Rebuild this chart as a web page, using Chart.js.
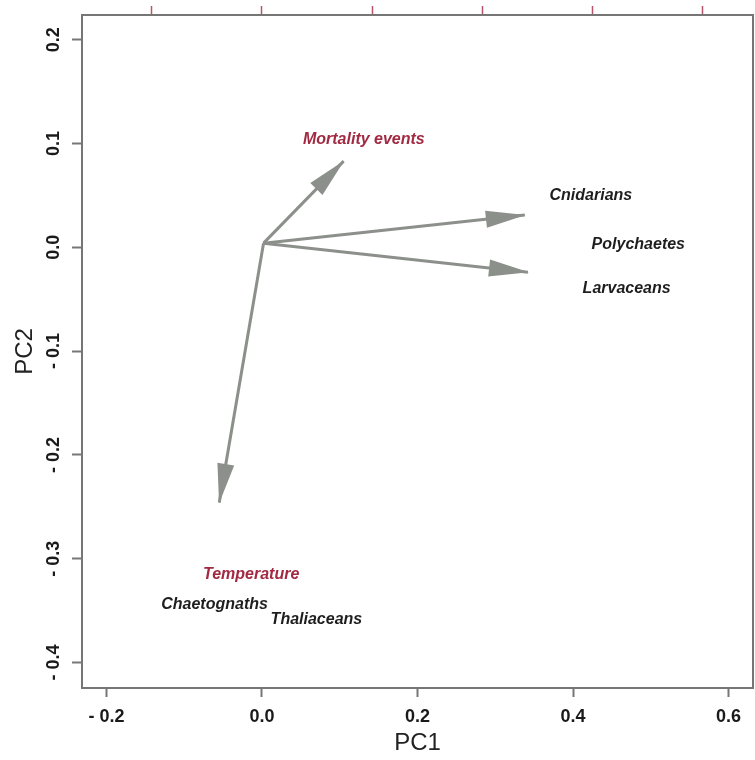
<!DOCTYPE html>
<html lang="en">
<head>
<meta charset="UTF-8">
<title>PCA biplot</title>
<script src="https://cdn.jsdelivr.net/npm/chart.js"></script>
<style>
  html, body { margin: 0; padding: 0; background: #fff; }
  #wrap { width: 755px; height: 760px; }
</style>
</head>
<body>
<div id="wrap"><canvas id="biplot" width="755" height="760"></canvas></div>
<script>
// tick values
const xTicks = [-0.2, 0.0, 0.2, 0.4, 0.6];
const yTicks = [0.2, 0.1, 0.0, -0.1, -0.2, -0.3, -0.4];
const topTicks = [-0.1, 0.0, 0.1, 0.2, 0.3, 0.4];

// arrows: common origin -> tip
const arrowNames = ['Mortality events', 'Cnidarians', 'Larvaceans', 'Temperature'];
const originX = 0.002;
const originY = 0.004;
const arrowTipX = [0.105, 0.338, 0.342, -0.055];
const arrowTipY = [0.083, 0.031, -0.024, -0.246];

// environmental variable labels (red)
const envNames = ['Mortality events', 'Temperature'];
const envX = [0.131, -0.014];
const envY = [0.104, -0.315];

// taxa labels (black)
const taxaNames = ['Cnidarians', 'Polychaetes', 'Larvaceans', 'Chaetognaths', 'Thaliaceans'];
const taxaX = [0.423, 0.484, 0.469, -0.061, 0.070];
const taxaY = [0.050, 0.003, -0.040, -0.344, -0.359];

const FONT = "'Liberation Sans', Arial, sans-serif";
const ARROW_COLOR = '#8c908b';

const fmt = v => (v < -1e-9 ? '- ' : '') + Math.abs(v).toFixed(1);

const datasets = arrowNames.map((name, i) => ({
    label: name,
    kind: 'arrow',
    data: [{ x: originX, y: originY }, { x: arrowTipX[i], y: arrowTipY[i] }],
    showLine: true,
    borderColor: ARROW_COLOR,
    borderWidth: 3,
    pointRadius: 0
}));
datasets.push({
    label: 'env',
    kind: 'text',
    names: envNames,
    textColor: '#a12a42',
    data: envNames.map((n, i) => ({ x: envX[i], y: envY[i] })),
    pointRadius: 0
});
datasets.push({
    label: 'taxa',
    kind: 'text',
    names: taxaNames,
    textColor: '#1e1e1e',
    data: taxaNames.map((n, i) => ({ x: taxaX[i], y: taxaY[i] })),
    pointRadius: 0
});

// arrowheads at the tip of each arrow
const arrowHeads = {
    id: 'arrowHeads',
    afterDatasetsDraw(chart) {
        const ctx = chart.ctx;
        chart.data.datasets.forEach((ds, i) => {
            if (ds.kind !== 'arrow') return;
            const pts = chart.getDatasetMeta(i).data;
            const a = pts[0], b = pts[1];
            const ang = Math.atan2(b.y - a.y, b.x - a.x);
            ctx.save();
            ctx.translate(b.x, b.y);
            ctx.rotate(ang);
            ctx.beginPath();
            ctx.moveTo(1, 0);
            ctx.lineTo(-39, -8.5);
            ctx.lineTo(-39, 8.5);
            ctx.closePath();
            ctx.fillStyle = ds.borderColor;
            ctx.fill();
            ctx.restore();
        });
    }
};

// text labels placed on their data points
const pointLabels = {
    id: 'pointLabels',
    afterDatasetsDraw(chart) {
        const ctx = chart.ctx;
        chart.data.datasets.forEach((ds, i) => {
            if (ds.kind !== 'text') return;
            const pts = chart.getDatasetMeta(i).data;
            ctx.save();
            ctx.font = 'italic bold 16px ' + FONT;
            ctx.fillStyle = ds.textColor;
            ctx.textAlign = 'center';
            ctx.textBaseline = 'middle';
            pts.forEach((p, j) => ctx.fillText(ds.names[j], p.x, p.y));
            ctx.restore();
        });
    }
};

// box round the plot area
const frame = {
    id: 'frame',
    afterDraw(chart) {
        const { left, top, right, bottom } = chart.chartArea;
        const ctx = chart.ctx;
        ctx.save();
        ctx.strokeStyle = '#767676';
        ctx.lineWidth = 2;
        ctx.strokeRect(left, top, right - left, bottom - top);
        ctx.restore();
    }
};

new Chart(document.getElementById('biplot'), {
    type: 'scatter',
    data: { datasets },
    options: {
        responsive: false,
        animation: false,
        layout: { padding: { left: 0, top: 0, right: 2, bottom: 0 } },
        plugins: { legend: { display: false }, tooltip: { enabled: false } },
        scales: {
            x: {
                type: 'linear',
                position: 'bottom',
                min: -0.2315,
                max: 0.6315,
                afterBuildTicks: s => { s.ticks = xTicks.map(v => ({ value: v })); },
                afterFit: s => { s.height = 72; },
                border: { display: false },
                grid: { drawOnChartArea: false, tickLength: 9, tickColor: '#777', tickWidth: 2 },
                ticks: {
                    padding: 9, color: '#1a1a1a', maxRotation: 0, autoSkip: false,
                    font: { family: FONT, size: 18, weight: 'bold' },
                    callback: v => fmt(v)
                },
                title: {
                    display: true, text: 'PC1', color: '#222',
                    font: { family: FONT, size: 24 },
                    padding: { top: 0, bottom: 2 }
                }
            },
            x2: {
                type: 'linear',
                axis: 'x',
                position: 'top',
                min: -0.1633,
                max: 0.4456,
                afterBuildTicks: s => { s.ticks = topTicks.map(v => ({ value: v })); },
                afterFit: s => { s.height = 15; },
                border: { display: false },
                grid: { drawOnChartArea: false, tickLength: 9, tickColor: '#b85467', tickWidth: 1.5 },
                ticks: { display: false }
            },
            y: {
                type: 'linear',
                position: 'left',
                min: -0.4246,
                max: 0.2238,
                afterBuildTicks: s => { s.ticks = yTicks.map(v => ({ value: v })); },
                afterFit: s => { s.width = 82; },
                border: { display: false },
                grid: { drawOnChartArea: false, tickLength: 10, tickColor: '#777', tickWidth: 2 },
                ticks: {
                    padding: 0, color: '#1a1a1a', minRotation: 90, maxRotation: 90,
                    crossAlign: 'center', autoSkip: false,
                    font: { family: FONT, size: 18, weight: 'bold' },
                    callback: v => fmt(v)
                },
                title: {
                    display: true, text: 'PC2', color: '#222',
                    font: { family: FONT, size: 24 },
                    padding: { top: 11, bottom: 0 }
                }
            }
        }
    },
    plugins: [arrowHeads, pointLabels, frame]
});
</script>
</body>
</html>
